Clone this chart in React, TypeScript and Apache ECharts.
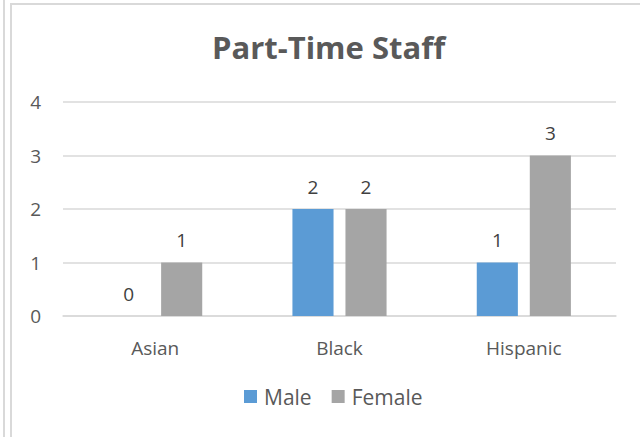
import React, { useEffect, useRef } from "react";
import * as echarts from "echarts";

const categories = ["Asian", "Black", "Hispanic"];
const maleValues = [0, 2, 1];
const femaleValues = [1, 2, 3];
const seriesNames = ["Male", "Female"];

export default function App() {
  const ref = useRef<HTMLDivElement>(null);
  useEffect(() => {
    document.body.style.margin = "0";
    const chart = echarts.init(ref.current!, null, { renderer: "svg" });
    const font = "'Open Sans', 'Liberation Sans', sans-serif";
    chart.setOption({
      animation: false,
      backgroundColor: "#ffffff",
      textStyle: { fontFamily: font },
      title: {
        text: "Part-Time Staff",
        left: 207,
        top: 26,
        textStyle: { fontSize: 31, fontWeight: "bold", color: "#595959", fontFamily: font },
      },
      graphic: [
        { type: "line", shape: { x1: 4, y1: 0, x2: 4, y2: 437 }, style: { stroke: "#d9d9d9", lineWidth: 2 } },
        { type: "rect", shape: { x: 11, y: 4, width: 660, height: 460 }, style: { fill: "none", stroke: "#d9d9d9", lineWidth: 2 } },
      ],
      legend: {
        data: seriesNames,
        bottom: 25,
        left: 239,
        itemWidth: 13,
        itemHeight: 13,
        itemGap: 20,
        icon: "rect",
        textStyle: { fontSize: 21, color: "#595959", fontFamily: font, padding: [0, 0, 0, 2] },
      },
      grid: { left: 63, right: 24, top: 102, bottom: 121 },
      xAxis: {
        type: "category",
        data: categories,
        axisLine: { lineStyle: { color: "#d9d9d9", width: 1.5 } },
        axisTick: { show: false },
        axisLabel: { fontSize: 19, color: "#595959", margin: 22, fontFamily: font },
      },
      yAxis: {
        type: "value",
        min: 0,
        max: 4,
        interval: 1,
        axisLine: { show: false },
        axisTick: { show: false },
        splitLine: { lineStyle: { color: "#d9d9d9", width: 1.5 } },
        axisLabel: { fontSize: 19, color: "#595959", margin: 22, fontFamily: font },
      },
      series: [
        {
          name: seriesNames[0],
          type: "bar",
          data: maleValues,
          barWidth: "22.3%",
          barGap: "29%",
          itemStyle: { color: "#5b9bd5" },
          label: { show: true, position: "top", distance: 13, fontSize: 19, color: "#404040", fontFamily: font },
        },
        {
          name: seriesNames[1],
          type: "bar",
          data: femaleValues,
          barWidth: "22.3%",
          barGap: "29%",
          itemStyle: { color: "#a5a5a5" },
          label: { show: true, position: "top", distance: 13, fontSize: 19, color: "#404040", fontFamily: font },
        },
      ],
    });
    return () => chart.dispose();
  }, []);
  return <div ref={ref} style={{ position: "absolute", left: 0, top: 0, width: 640, height: 437 }} />;
}
